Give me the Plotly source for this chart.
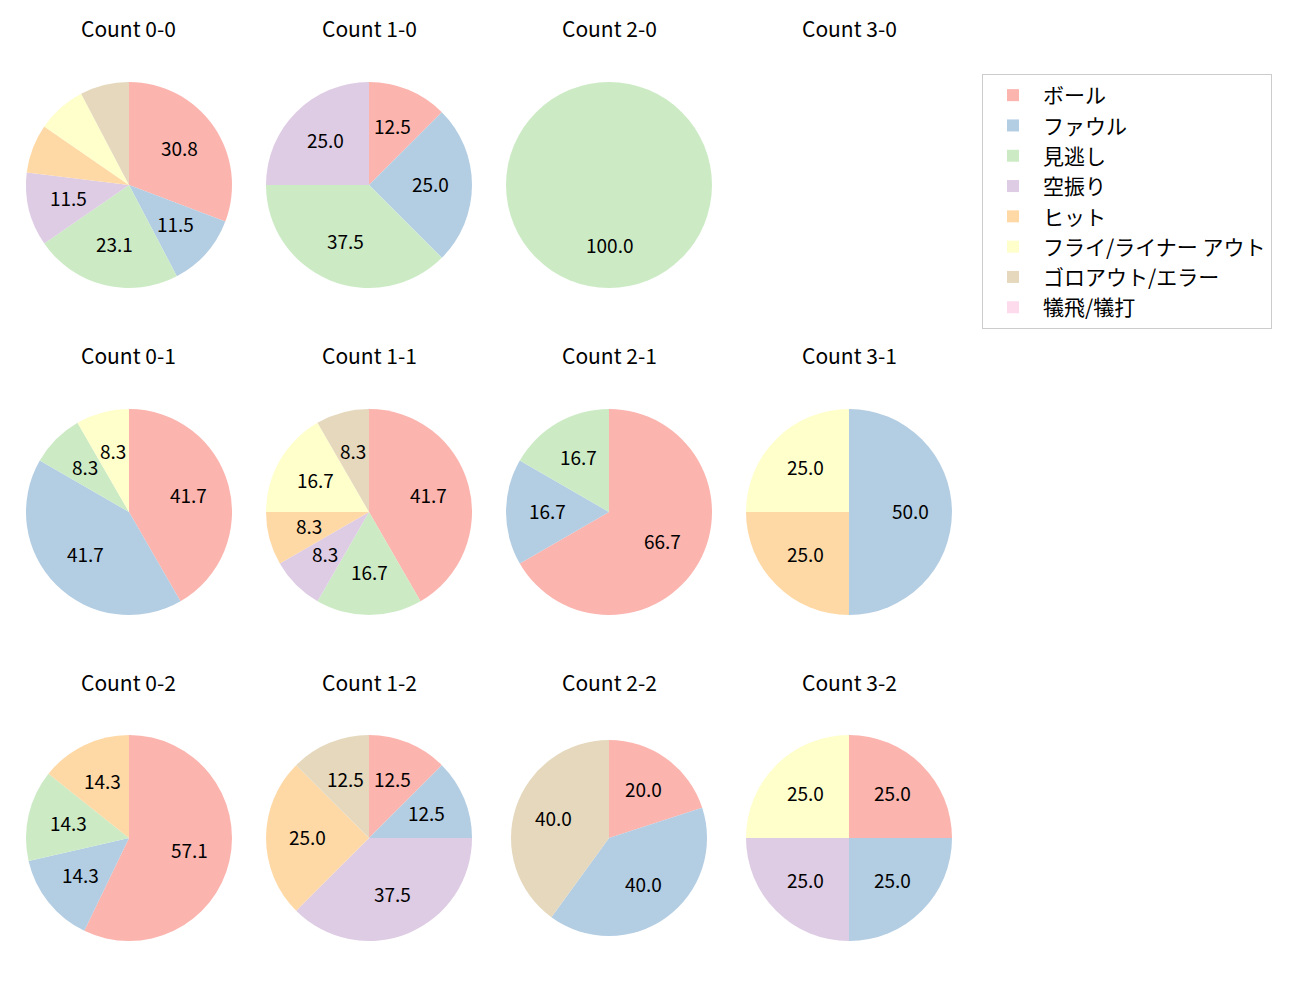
import math
import plotly.graph_objects as go

categories = ["ボール", "ファウル", "見逃し", "空振り", "ヒット",
              "フライ/ライナー アウト", "ゴロアウト/エラー", "犠飛/犠打"]
colors = ["#fbb4ae", "#b3cde3", "#ccebc5", "#decbe4", "#fed9a6",
          "#ffffcc", "#e5d8bd", "#fddaec"]

titles = ["Count 0-0", "Count 1-0", "Count 2-0", "Count 3-0",
          "Count 0-1", "Count 1-1", "Count 2-1", "Count 3-1",
          "Count 0-2", "Count 1-2", "Count 2-2", "Count 3-2"]

count_0_0 = [8, 3, 6, 3, 2, 2, 2, 0]
count_1_0 = [1, 2, 3, 2, 0, 0, 0, 0]
count_2_0 = [0, 0, 1, 0, 0, 0, 0, 0]
count_3_0 = [0, 0, 0, 0, 0, 0, 0, 0]
count_0_1 = [5, 5, 1, 0, 0, 1, 0, 0]
count_1_1 = [5, 0, 2, 1, 1, 2, 1, 0]
count_2_1 = [4, 1, 1, 0, 0, 0, 0, 0]
count_3_1 = [0, 2, 0, 0, 1, 1, 0, 0]
count_0_2 = [4, 1, 1, 0, 1, 0, 0, 0]
count_1_2 = [1, 1, 0, 3, 2, 0, 1, 0]
count_2_2 = [1, 2, 0, 0, 0, 0, 2, 0]
count_3_2 = [1, 1, 0, 1, 0, 1, 0, 0]

all_counts = [count_0_0, count_1_0, count_2_0, count_3_0,
              count_0_1, count_1_1, count_2_1, count_3_1,
              count_0_2, count_1_2, count_2_2, count_3_2]

W, H = 1300, 1000
OFF = 8  # page body margin offset
col_cx = [129 - OFF, 369 - OFF, 609 - OFF, 849 - OFF]
row_cy = [185 - OFF, 512 - OFF, 838 - OFF]
radii = [103] * 12
radii[10] = 98
title_y = [28 - OFF, 355 - OFF, 682 - OFF]
LABEL_DY = -2

fig = go.Figure()
annotations = []
FONT = "Noto Sans CJK JP, Noto Sans, sans-serif"

for i, vals in enumerate(all_counts):
    r_idx, c_idx = divmod(i, 4)
    cx, cy, r = col_cx[c_idx], row_cy[r_idx], radii[i]
    annotations.append(dict(
        x=cx / W, y=1 - title_y[r_idx] / H, xref="paper", yref="paper",
        text=titles[i], showarrow=False, xanchor="center", yanchor="middle",
        font=dict(size=21, color="#000000", family=FONT)))
    total = sum(vals)
    if total == 0:
        continue
    fig.add_trace(go.Pie(
        labels=categories, values=vals, sort=False, direction="clockwise",
        rotation=0, marker=dict(colors=colors, line=dict(width=0)),
        textinfo="none", hoverinfo="label+percent",
        showlegend=(i == 0),
        domain=dict(x=[(cx - r) / W, (cx + r) / W],
                    y=[1 - (cy + r) / H, 1 - (cy - r) / H])))
    cum = 0
    for v in vals:
        if v == 0:
            continue
        pct = 100 * v / total
        mid = (cum + v / 2) / total * 2 * math.pi
        cum += v
        if pct < 8:
            continue
        px = cx + 0.6 * r * math.sin(mid)
        py = cy - 0.6 * r * math.cos(mid) + LABEL_DY
        annotations.append(dict(
            x=px / W, y=1 - py / H, xref="paper", yref="paper",
            text=f"{pct:.1f}", showarrow=False, xanchor="center", yanchor="middle",
            font=dict(size=19, color="#000000", family=FONT)))

fig.update_layout(
    width=W, height=H, margin=dict(l=0, r=0, t=0, b=0),
    paper_bgcolor="white", plot_bgcolor="white",
    annotations=annotations,
    legend=dict(x=(982 - OFF) / W, y=1 - (74 - OFF) / H, xanchor="left", yanchor="top",
                bgcolor="white", bordercolor="#cccccc", borderwidth=1,
                font=dict(size=21, family=FONT, color="#000000"),
                itemwidth=50, traceorder="normal"),
)
fig.write_html("out.html")
